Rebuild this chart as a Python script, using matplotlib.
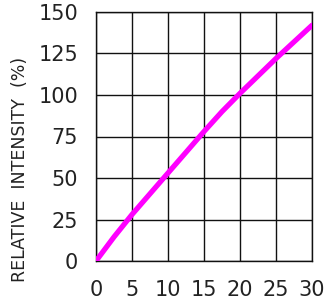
import matplotlib
matplotlib.use("Agg")
import matplotlib.pyplot as plt

# data
current = [0, 2.5, 5, 7.5, 10, 12.5, 15, 17.5, 20, 22.5, 25, 27.5, 30]
intensity = [0, 14.5, 28, 40.5, 53, 65.5, 78, 90, 101, 111.5, 122, 132, 142]

x_ticks = [0, 5, 10, 15, 20, 25, 30]
y_ticks = [0, 25, 50, 75, 100, 125, 150]

plt.rcParams["font.family"] = ["DejaVu Sans"]

fig = plt.figure(figsize=(3.27, 3.05), dpi=100)
ax = fig.add_axes([96 / 327, 1 - 261 / 305, 216 / 327, 249 / 305])

ax.plot(current, intensity, color="#ff00ff", lw=3.8, solid_capstyle="round", zorder=5)

ax.set_xlim(0, 30)
ax.set_ylim(0, 150)
ax.set_xticks(x_ticks)
ax.set_yticks(y_ticks)
ax.grid(True, color="#111111", lw=1.0)
ax.tick_params(length=0, labelsize=15, colors="#222222")
ax.tick_params(axis="y", pad=13)
ax.tick_params(axis="x", pad=14)
for s in ax.spines.values():
    s.set_color("#111111")
    s.set_linewidth(1.0)

fig.text(20 / 327, 1 - 169 / 305, "RELATIVE  INTENSITY  (%)", rotation=90,
         ha="center", va="center", fontsize=12.5, color="#222222")

fig.savefig("out.png", dpi=100)
